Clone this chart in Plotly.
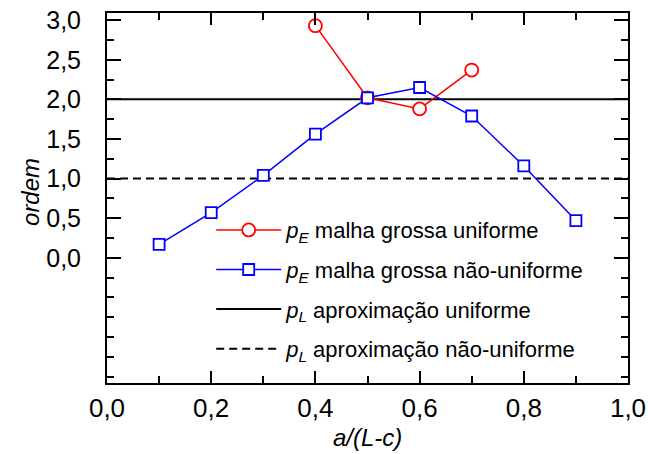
import plotly.graph_objects as go

# Data
x_uniform = [0.4, 0.5, 0.6, 0.7]
pE_uniform = [2.93, 2.02, 1.88, 2.37]

x_nonuniform = [0.1, 0.2, 0.3, 0.4, 0.5, 0.6, 0.7, 0.8, 0.9]
pE_nonuniform = [0.17, 0.57, 1.04, 1.56, 2.02, 2.15, 1.79, 1.16, 0.47]

x_span = [0.0, 1.0]
pL_uniform = 2.0
pL_nonuniform = 1.0

names = [
    "<i>p</i><sub><i>E</i></sub> malha grossa uniforme",
    "<i>p</i><sub><i>E</i></sub> malha grossa não-uniforme",
    "<i>p</i><sub><i>L</i></sub> aproximação uniforme",
    "<i>p</i><sub><i>L</i></sub> aproximação não-uniforme",
]

FONT = "Liberation Sans, Arial, sans-serif"

fig = go.Figure()
fig.add_trace(go.Scatter(
    x=x_span, y=[pL_uniform] * 2, mode="lines", name=names[2],
    line=dict(color="black", width=2), legendgroup="c", legendrank=3,
))
fig.add_trace(go.Scatter(
    x=x_span, y=[pL_nonuniform] * 2, mode="lines", name=names[3],
    line=dict(color="black", width=2, dash="8px,5px"), legendgroup="d", legendrank=4,
))
fig.add_trace(go.Scatter(
    x=x_uniform, y=pE_uniform, mode="lines+markers", name=names[0],
    line=dict(color="#ff0000", width=1.5),
    marker=dict(symbol="circle", size=13, color="white", line=dict(color="#ff0000", width=1.8)),
    legendgroup="a", legendrank=1,
))
fig.add_trace(go.Scatter(
    x=x_nonuniform, y=pE_nonuniform, mode="lines+markers", name=names[1],
    line=dict(color="#0000ff", width=1.5),
    marker=dict(symbol="square", size=11, color="white", line=dict(color="#0000ff", width=1.8)),
    legendgroup="b", legendrank=2,
))

fig.update_layout(
    width=648, height=454,
    margin=dict(l=107, r=20, t=13, b=71),
    plot_bgcolor="white", paper_bgcolor="white",
    separators=", ",
    font=dict(family=FONT, color="black"),
    showlegend=True,
    legend=dict(
        x=0.2, y=0.47, xanchor="left", yanchor="top",
        bgcolor="rgba(0,0,0,0)", font=dict(size=22, family=FONT),
        traceorder="grouped", tracegroupgap=8, itemwidth=65,
    ),
    annotations=[
        dict(text="<i>a/(L-c)</i>", xref="paper", yref="paper", x=0.5, y=-0.146,
             xanchor="center", yanchor="middle", showarrow=False,
             font=dict(size=24, family=FONT)),
        dict(text="<i>ordem</i>", xref="paper", yref="paper", x=-0.148, y=0.516,
             xanchor="center", yanchor="middle", showarrow=False, textangle=-90,
             font=dict(size=24, family=FONT)),
    ],
)

fig.update_xaxes(
    range=[0, 1], dtick=0.2, tick0=0, tickformat=".1f",
    showgrid=False, zeroline=False, automargin="bottom",
    showline=True, linecolor="black", linewidth=2, mirror="ticks",
    ticks="inside", ticklen=12, tickwidth=2, tickcolor="black",
    minor=dict(dtick=0.1, ticks="inside", ticklen=7, tickwidth=2, tickcolor="black"),
    tickfont=dict(size=26, family=FONT),
    ticklabelstandoff=1,
)
fig.update_yaxes(
    range=[-1.58, 3.09], tickmode="array",
    tickvals=[0, 0.5, 1.0, 1.5, 2.0, 2.5, 3.0], tickformat=".1f",
    showgrid=False, zeroline=False, automargin="left",
    showline=True, linecolor="black", linewidth=2, mirror="ticks",
    ticks="inside", ticklen=14, tickwidth=2, tickcolor="black",
    minor=dict(tickmode="array",
               tickvals=[-1.5, -1.25, -1.0, -0.75, -0.5, -0.25, 0.25, 0.75, 1.25, 1.75, 2.25, 2.75],
               ticks="inside", ticklen=7, tickwidth=2, tickcolor="black"),
    tickfont=dict(size=25, family=FONT),
    ticklabelstandoff=19,
)

fig.write_html("out.html", config={"displayModeBar": False},
               post_script="document.body.style.margin='0';")
